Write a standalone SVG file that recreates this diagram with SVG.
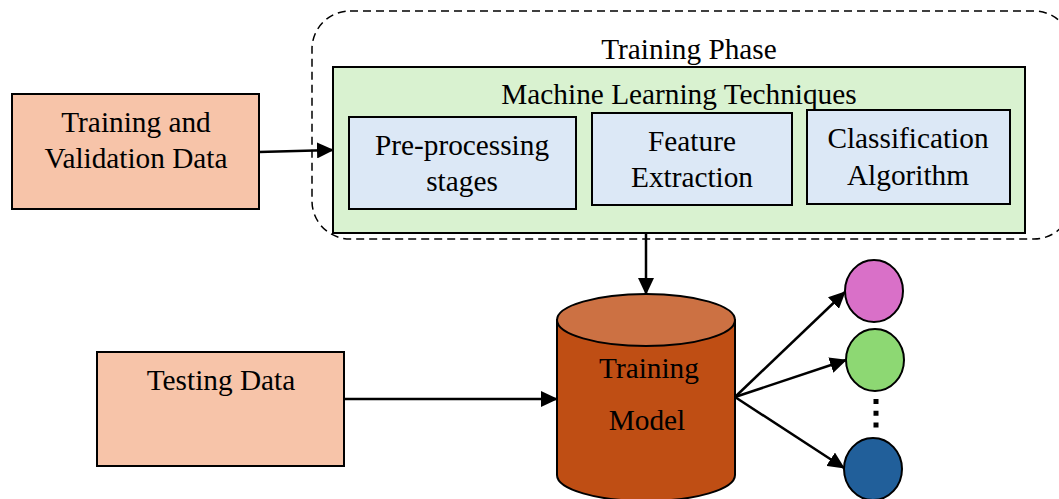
<svg xmlns="http://www.w3.org/2000/svg" width="1059" height="499" viewBox="0 0 1059 499">
  <style>
    .lbl { font-family: "Liberation Serif", "Times New Roman", serif; font-size: 29.3px; fill: #000; text-anchor: middle; }
    .box { stroke: #000; stroke-width: 2; }
    .peach { fill: #F7C4A9; }
    .blue { fill: #DCE8F6; }
    .edge { stroke: #000; stroke-width: 2.5; fill: none; marker-end: url(#arrow); }
  </style>
  <defs>
    <marker id="arrow" markerUnits="userSpaceOnUse" markerWidth="18" markerHeight="16" refX="16" refY="8" orient="auto">
      <path d="M0,0 L17,8 L0,16 Z" fill="#000"/>
    </marker>
  </defs>

  <rect width="1059" height="499" fill="#fff"/>

  <!-- Training phase container -->
  <g id="training-phase">
    <rect x="312" y="11" width="760" height="228" rx="38" ry="38" fill="none" stroke="#000" stroke-width="1.5" stroke-dasharray="8 5"/>
    <text class="lbl" x="689" y="59">Training Phase</text>
  </g>

  <g id="ml-techniques">
    <rect class="box" x="333" y="67" width="692" height="166" fill="#D9F2D0"/>
    <text class="lbl" x="679" y="104">Machine Learning Techniques</text>
  </g>

  <g id="preprocessing">
    <rect class="box blue" x="349" y="117" width="227" height="92"/>
    <text class="lbl" x="462" y="155">Pre-processing</text>
    <text class="lbl" x="462" y="191">stages</text>
  </g>

  <g id="feature-extraction">
    <rect class="box blue" x="592" y="113" width="200" height="92"/>
    <text class="lbl" x="692" y="151">Feature</text>
    <text class="lbl" x="692" y="187">Extraction</text>
  </g>

  <g id="classification">
    <rect class="box blue" x="807" y="110" width="203" height="94"/>
    <text class="lbl" x="908" y="148">Classification</text>
    <text class="lbl" x="908" y="185">Algorithm</text>
  </g>

  <g id="training-data">
    <rect class="box peach" x="12" y="94" width="247" height="115"/>
    <text class="lbl" x="136" y="132">Training and</text>
    <text class="lbl" x="136" y="168">Validation Data</text>
  </g>

  <g id="testing-data">
    <rect class="box peach" x="97" y="352" width="247" height="114"/>
    <text class="lbl" x="221" y="390">Testing Data</text>
  </g>

  <!-- cylinder store -->
  <g id="training-model">
    <path d="M557,320 L557,475 A89,26 0 0 0 735,475 L735,320 Z" fill="#BF4E14" stroke="#000" stroke-width="2"/>
    <ellipse cx="646" cy="320" rx="89" ry="26" fill="#CC7143" stroke="#000" stroke-width="2"/>
    <text class="lbl" x="649" y="378">Training</text>
    <text class="lbl" x="647" y="430">Model</text>
  </g>

  <g id="class-1">
    <ellipse cx="874" cy="291" rx="29" ry="31" fill="#D970C8" stroke="#000" stroke-width="2"/>
  </g>
  <g id="class-2">
    <ellipse cx="875" cy="360" rx="29" ry="31" fill="#8DD873" stroke="#000" stroke-width="2"/>
  </g>
  <g id="class-n">
    <ellipse cx="873" cy="469" rx="29" ry="31" fill="#215F9A" stroke="#000" stroke-width="2"/>
  </g>

  <g id="connectors">
    <line class="edge" x1="259" y1="152" x2="333" y2="150"/>
    <line class="edge" x1="646" y1="233" x2="646" y2="294"/>
    <line class="edge" x1="344" y1="399" x2="557" y2="399"/>
    <line class="edge" x1="735" y1="397" x2="845" y2="292"/>
    <line class="edge" x1="735" y1="397" x2="846" y2="360"/>
    <line class="edge" x1="735" y1="397" x2="844" y2="468"/>
    <line x1="876" y1="399" x2="876" y2="432" stroke="#000" stroke-width="5" stroke-dasharray="5 6.7"/>
  </g>
</svg>
